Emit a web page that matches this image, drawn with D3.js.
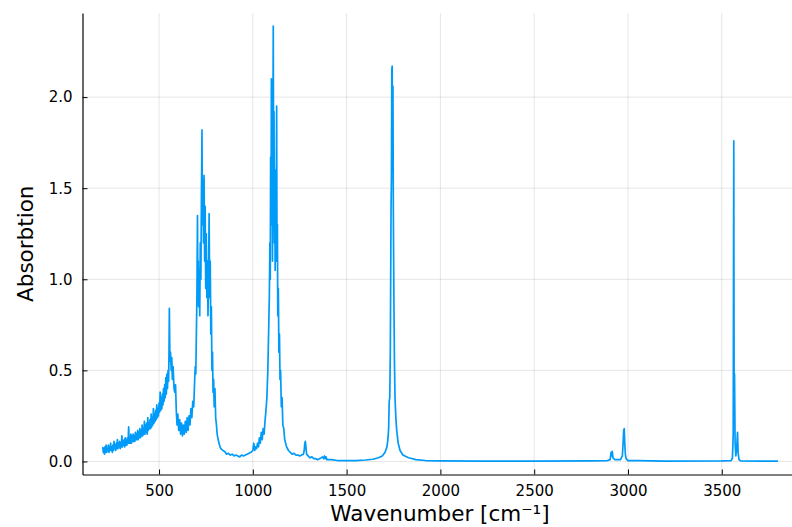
<!DOCTYPE html>
<html>
<head>
<meta charset="utf-8">
<script src="https://cdn.jsdelivr.net/npm/d3@7"></script>
<style>
  html, body { margin: 0; padding: 0; background: #fff; }
  svg { display: block; font-family: "DejaVu Sans", sans-serif; }
</style>
</head>
<body>
<svg id="chart" width="792" height="527"></svg>
<script>
// ---- data ----
const wavenumber = [
  200,203,206,209,212,215,218,221,224,227,230,233,236,239,242,245,248,251,254,257,
  260,263,266,269,272,275,278,281,284,287,290,293,296,299,302,305,308,311,314,317,
  320,323,326,329,332,335,338,341,344,347,350,353,356,359,362,365,368,371,374,377,
  380,383,386,389,392,395,398,401,404,407,410,413,416,419,422,425,428,431,434,437,
  440,443,446,449,452,455,458,461,464,467,470,473,476,479,482,485,488,491,494,497,
  500,503,506,509,512,515,518,521,524,527,530,533,536,539,542,545,548,551,
  553,555,558,561,565,568,571,575,580,
  584,588,592,596,600,605,610,615,620,625,630,635,640,645,650,655,660,665,670,675,
  680,685,690,693,696,699,702,705,707,709,711,714,717,720,723,726,729,731,734,737,
  740,743,746,749,752,755,758,761,764,767,770,773,776,779,782,785,788,791,794,798,
  802,806,810,815,820,825,830,840,850,860,870,880,890,900,910,920,930,940,950,960,
  970,980,990,1000,1005,1010,1015,1020,1025,1030,1035,1040,1045,1050,1055,1060,1065,1070,1075,1080,
  1084,1088,1091,1093,1095,1097,1099,1101,1103,1105,1107,1109,1111,1113,1115,1117,1119,1121,1123,1125,
  1127,1129,1131,1133,1136,1139,1142,1145,1148,1152,1156,1160,1165,1170,1175,1180,1190,1200,1210,1220,
  1230,1240,1250,1260,1270,1274,1277,1280,1283,1287,1295,1305,1315,1325,1335,1345,1355,1365,1372,1378,
  1382,1386,1390,1395,1400,1420,1450,1500,1550,1600,1640,1670,1690,1705,1715,1720,1724,1727,1730,1733,
  1735,1737,1739,1741,1743,1745,1747,1749,1752,1755,1758,1762,1767,1775,1785,1800,1830,1870,1920,2000,
  2200,2500,2800,2890,2905,2910,2913,2916,2920,2930,2960,2970,2974,2977,2980,2983,2986,2990,3000,3050,
  3200,3500,3550,3557,3561,3564,3566,3568,3571,3575,3580,3584,3587,3592,3600,3700,3800
];
const absorbance = [
  0.08,0.05,0.07,0.04,0.08,0.05,0.09,0.05,0.07,0.06,0.09,0.05,0.08,0.06,0.10,0.06,0.08,0.05,0.09,0.06,
  0.11,0.07,0.09,0.06,0.10,0.07,0.12,0.07,0.10,0.08,0.11,0.07,0.10,0.08,0.14,0.08,0.11,0.09,0.12,0.08,
  0.13,0.09,0.12,0.09,0.13,0.10,0.19,0.10,0.13,0.10,0.15,0.10,0.14,0.11,0.15,0.11,0.14,0.11,0.16,0.12,
  0.15,0.12,0.17,0.12,0.16,0.13,0.18,0.13,0.17,0.14,0.20,0.14,0.18,0.15,0.22,0.15,0.20,0.16,0.21,0.15,
  0.24,0.17,0.21,0.18,0.23,0.18,0.26,0.19,0.24,0.20,0.29,0.21,0.26,0.22,0.28,0.23,0.31,0.24,0.29,0.25,
  0.32,0.27,0.38,0.28,0.35,0.29,0.37,0.31,0.40,0.33,0.42,0.35,0.46,0.37,0.48,0.40,0.50,0.44,
  0.58,0.84,0.55,0.60,0.50,0.57,0.45,0.52,0.40,
  0.38,0.42,0.28,0.20,0.26,0.17,0.23,0.15,0.21,0.14,0.20,0.15,0.22,0.16,0.24,0.17,0.25,0.20,0.29,0.24,
  0.33,0.30,0.45,0.52,0.48,0.70,0.90,1.35,0.95,1.10,0.85,1.05,0.80,1.20,1.00,1.45,1.82,1.30,1.55,1.20,
  1.57,1.10,1.40,0.95,1.25,0.90,1.10,0.80,1.00,1.36,0.90,1.10,0.70,0.85,0.50,0.60,0.38,0.45,0.30,0.40,
  0.24,0.20,0.15,0.12,0.10,0.08,0.07,0.06,0.055,0.04,0.045,0.035,0.04,0.03,0.035,0.03,0.025,0.035,0.03,0.035,
  0.04,0.045,0.05,0.06,0.10,0.06,0.08,0.07,0.10,0.08,0.13,0.10,0.16,0.12,0.18,0.15,0.22,0.28,0.35,0.50,
  0.70,0.90,1.20,1.00,1.67,1.30,2.10,1.40,1.60,1.10,1.80,2.39,1.50,1.92,1.20,1.60,1.05,1.40,1.10,1.50,
  1.95,1.10,1.30,0.80,0.95,0.60,0.70,0.45,0.50,0.30,0.35,0.20,0.18,0.12,0.10,0.08,0.06,0.05,0.04,0.045,
  0.035,0.035,0.03,0.035,0.04,0.06,0.10,0.11,0.08,0.04,0.03,0.02,0.025,0.015,0.015,0.01,0.015,0.02,0.025,0.015,
  0.03,0.015,0.025,0.01,0.01,0.01,0.005,0.005,0.005,0.008,0.012,0.02,0.03,0.05,0.08,0.12,0.18,0.33,0.35,0.60,
  1.00,1.40,1.55,2.15,2.17,1.60,2.06,1.40,0.90,0.55,0.35,0.25,0.17,0.10,0.06,0.035,0.02,0.01,0.005,0.003,
  0.002,0.002,0.003,0.005,0.01,0.05,0.03,0.055,0.02,0.01,0.01,0.03,0.10,0.17,0.18,0.10,0.04,0.015,0.005,0.005,
  0.002,0.003,0.005,0.02,0.15,1.76,0.30,0.48,0.10,0.03,0.08,0.16,0.05,0.01,0.003,0.002,0.002
];
const xTicks = [500, 1000, 1500, 2000, 2500, 3000, 3500];
const yTicks = [0.0, 0.5, 1.0, 1.5, 2.0];
const xLabel = "Wavenumber [cm⁻¹]";
const yLabel = "Absorbtion";

const points = wavenumber.map((w, i) => ({ w, a: absorbance[i] }));

// ---- layout ----
const svg = d3.select("#chart");
const plotLeft = 82.5, plotRight = 798.3, plotTop = 13, plotBottom = 474.5;

function padded(ext) {
  const p = (ext[1] - ext[0]) * 0.03;
  return [ext[0] - p, ext[1] + p];
}
const x = d3.scaleLinear().domain(padded(d3.extent(wavenumber))).range([plotLeft, plotRight]);
const y = d3.scaleLinear().domain(padded([0, d3.max(absorbance)])).range([plotBottom, plotTop]);

// grid
const grid = svg.append("g").attr("stroke", "#000").attr("stroke-opacity", 0.1).attr("stroke-width", 1);
grid.selectAll(".gx").data(xTicks).join("line")
  .attr("x1", d => x(d)).attr("x2", d => x(d)).attr("y1", plotTop).attr("y2", plotBottom);
grid.selectAll(".gy").data(yTicks).join("line")
  .attr("x1", plotLeft).attr("x2", plotRight).attr("y1", d => y(d)).attr("y2", d => y(d));

// axes
const xAxis = d3.axisBottom(x).tickValues(xTicks).tickFormat(d3.format("d")).tickSizeInner(-5).tickSizeOuter(0).tickPadding(11);
const yAxis = d3.axisLeft(y).tickValues(yTicks).tickFormat(d3.format(".1f")).tickSizeInner(-5).tickSizeOuter(0).tickPadding(10);

const gx = svg.append("g").attr("transform", `translate(0,${plotBottom})`).call(xAxis);
const gy = svg.append("g").attr("transform", `translate(${plotLeft},0)`).call(yAxis);
[gx, gy].forEach(g => {
  g.select(".domain").attr("stroke", "#000").attr("stroke-width", 1.2);
  g.selectAll(".tick line").attr("stroke", "#000").attr("stroke-width", 1);
  g.selectAll(".tick text").attr("fill", "#000").style("font-size", "15px").style("font-family", "DejaVu Sans, sans-serif");
});

// line
svg.append("path")
  .datum(points)
  .attr("fill", "none")
  .attr("stroke", "#009af9")
  .attr("stroke-width", 1.7)
  .attr("stroke-linejoin", "round")
  .attr("d", d3.line().x(d => x(d.w)).y(d => y(d.a)));

// labels
svg.append("text")
  .attr("x", 440).attr("y", 521)
  .attr("text-anchor", "middle")
  .style("font-size", "21.5px")
  .text(xLabel);
svg.append("text")
  .attr("transform", `translate(33,${(plotTop + plotBottom) / 2}) rotate(-90)`)
  .attr("text-anchor", "middle")
  .style("font-size", "21.5px")
  .text(yLabel);
</script>
</body>
</html>
